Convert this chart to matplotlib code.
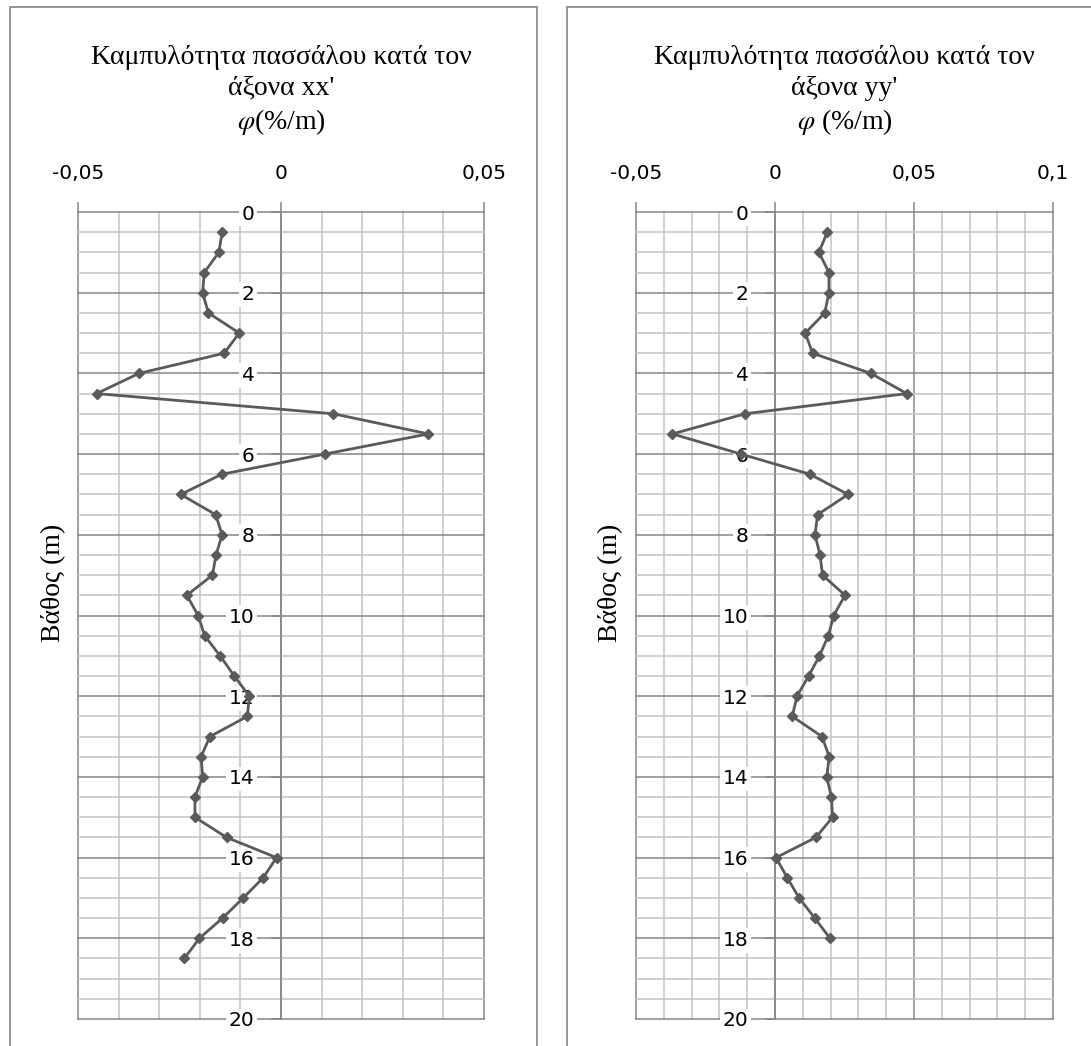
import matplotlib
matplotlib.use("Agg")
import matplotlib.pyplot as plt
from matplotlib.ticker import MultipleLocator, FuncFormatter
from matplotlib.patches import Rectangle

# Pile curvature profiles, φ (%/m) against depth (m)
depth_xx = [0.5, 1.0, 1.5, 2.0, 2.5, 3.0, 3.5, 4.0, 4.5, 5.0, 5.5, 6.0, 6.5,
            7.0, 7.5, 8.0, 8.5, 9.0, 9.5, 10.0, 10.5, 11.0, 11.5, 12.0, 12.5,
            13.0, 13.5, 14.0, 14.5, 15.0, 15.5, 16.0, 16.5, 17.0, 17.5, 18.0, 18.5]
phi_xx = [-0.0145, -0.0153, -0.0189, -0.0193, -0.0179, -0.0103, -0.0140,
          -0.0350, -0.0454, 0.0129, 0.0363, 0.0108, -0.0146, -0.0247,
          -0.0161, -0.0145, -0.0160, -0.0169, -0.0232, -0.0204, -0.0188,
          -0.0150, -0.0115, -0.0078, -0.0083, -0.0175, -0.0197, -0.0193,
          -0.0212, -0.0212, -0.0134, -0.0011, -0.0044, -0.0093, -0.0144,
          -0.0201, -0.0238]

depth_yy = [0.5, 1.0, 1.5, 2.0, 2.5, 3.0, 3.5, 4.0, 4.5, 5.0, 5.5, 6.0, 6.5,
            7.0, 7.5, 8.0, 8.5, 9.0, 9.5, 10.0, 10.5, 11.0, 11.5, 12.0, 12.5,
            13.0, 13.5, 14.0, 14.5, 15.0, 15.5, 16.0, 16.5, 17.0, 17.5, 18.0]
phi_yy = [0.0188, 0.0158, 0.0194, 0.0194, 0.0179, 0.0109, 0.0135, 0.0345,
          0.0474, -0.0107, -0.0369, -0.0122, 0.0126, 0.0263, 0.0153, 0.0144,
          0.0162, 0.0171, 0.0252, 0.0211, 0.0192, 0.0160, 0.0121, 0.0079,
          0.0062, 0.0169, 0.0195, 0.0186, 0.0203, 0.0207, 0.0147, 0.0004,
          0.0044, 0.0087, 0.0143, 0.0198]

titles = ["Καμπυλότητα πασσάλου κατά τον\nάξονα xx'\n$\\varphi$(%/m)",
          "Καμπυλότητα πασσάλου κατά τον\nάξονα yy'\n$\\varphi$ (%/m)"]
xlims = [(-0.05, 0.05), (-0.05, 0.1)]
ylabel = "Βάθος (m)"

W, H = 1091, 1046
plt.rcParams["mathtext.fontset"] = "stix"
fig = plt.figure(figsize=(W / 100, H / 100), dpi=100)

MAJOR = "#868686"
MINOR = "#c3c3c3"
SERIES = "#5a5a5a"
SERIF = "Liberation Serif"
SANS = "DejaVu Sans"


def comma_fmt(v, _pos):
    v = round(v, 4)
    if v == 0:
        return "0"
    return f"{v:g}".replace(".", ",")


def px_rect(x0, y0, x1, y1):
    return [x0 / W, 1 - y1 / H, (x1 - x0) / W, (y1 - y0) / H]


# chart frames
for x0, x1 in [(10, 537), (567, 1200)]:
    fig.patches.append(Rectangle((x0 / W, -0.1), (x1 - x0) / W, 1.1 - 7 / H,
                                 transform=fig.transFigure, fill=False,
                                 edgecolor="#8c8c8c", linewidth=1.3))

panels = [
    (px_rect(78, 212, 484, 1019), depth_xx, phi_xx, 0),
    (px_rect(636, 212, 1053, 1019), depth_yy, phi_yy, 1),
]

for rect, depth, phi, i in panels:
    ax = fig.add_axes(rect)
    ax.set_facecolor("none")
    ax.set_xlim(*xlims[i])
    ax.set_ylim(20, 0)

    ax.xaxis.set_major_locator(MultipleLocator(0.05))
    ax.xaxis.set_minor_locator(MultipleLocator(0.01))
    ax.yaxis.set_major_locator(MultipleLocator(2))
    ax.yaxis.set_minor_locator(MultipleLocator(0.5))
    ax.xaxis.set_major_formatter(FuncFormatter(comma_fmt))

    ax.grid(True, which="major", color=MAJOR, linewidth=1.1, clip_on=False)
    ax.grid(True, which="minor", color=MINOR, linewidth=1.1, clip_on=False)

    for side in ["top", "bottom", "right"]:
        ax.spines[side].set_visible(False)
    ax.spines["left"].set_position(("data", 0))
    ax.spines["left"].set_color(MAJOR)
    ax.spines["left"].set_linewidth(1.1)

    ax.xaxis.tick_top()
    ax.tick_params(axis="x", which="major", direction="out", length=7,
                   width=1.1, color=MAJOR, pad=14, labelsize=14.5,
                   labelcolor="black")
    ax.tick_params(axis="y", which="major", direction="out", length=7,
                   width=1.1, color=MAJOR, pad=12, labelsize=14.5,
                   labelcolor="black")
    ax.tick_params(which="minor", length=0)
    for lab in ax.get_xticklabels() + ax.get_yticklabels():
        lab.set_fontfamily(SANS)
    for lab in ax.get_yticklabels():
        lab.set_bbox(dict(facecolor="white", edgecolor="none", pad=2))

    ax.plot(phi, depth, color=SERIES, linewidth=2.0, marker="D",
            markersize=5.5, markerfacecolor=SERIES, markeredgecolor=SERIES,
            zorder=3, clip_on=False)

    ax.text(0.5, 1.093, titles[i], transform=ax.transAxes, ha="center",
            va="bottom", fontsize=20, family=SERIF, linespacing=1.28,
            color="black")
    ax.text(-0.06, 0.54, ylabel, transform=ax.transAxes, rotation=90,
            ha="center", va="center", fontsize=20, family=SERIF,
            color="black")

fig.savefig("out.png", dpi=100, facecolor="white")
